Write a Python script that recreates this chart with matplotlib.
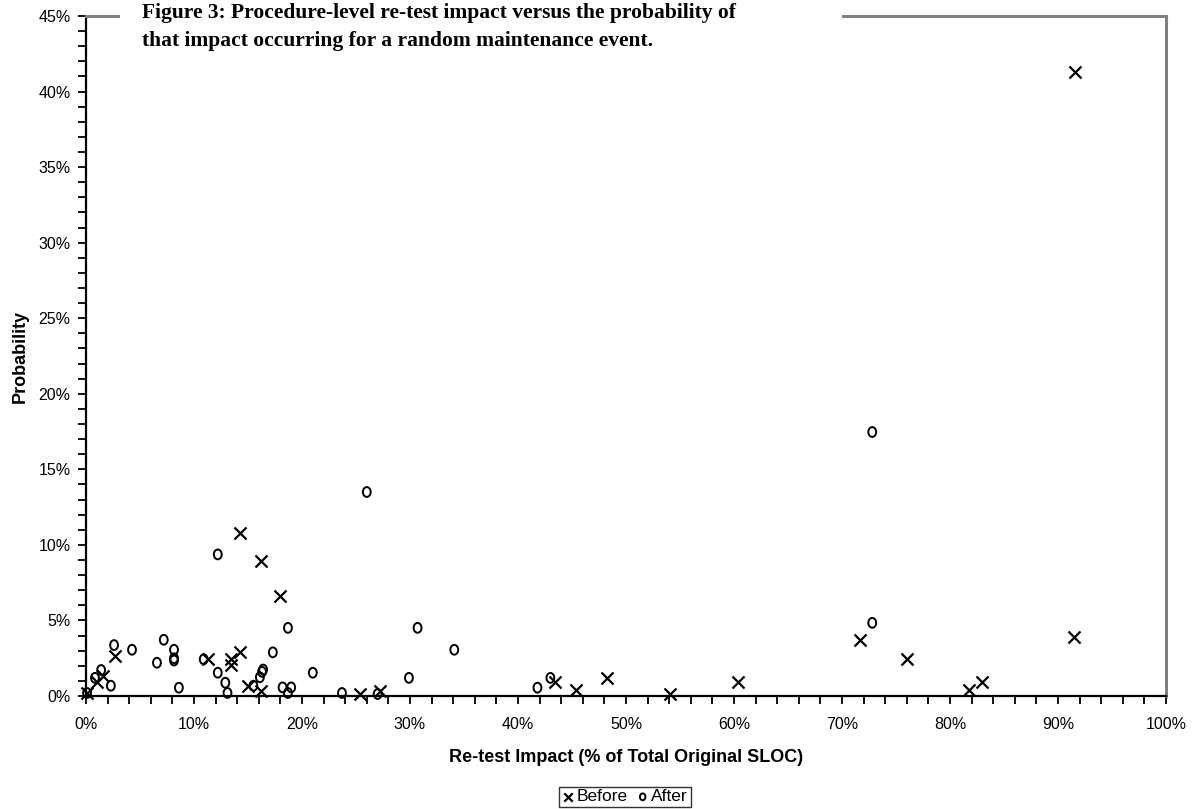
import matplotlib.pyplot as plt
from matplotlib.markers import MarkerStyle
from matplotlib.patches import Rectangle
from matplotlib.transforms import Affine2D
from matplotlib.ticker import MultipleLocator, PercentFormatter

# values, in percent
before_x = [0.1, 1.0, 1.6, 2.7, 11.3, 13.4, 13.4, 14.3, 14.3, 15.0, 16.2, 16.2, 18.0,
            25.4, 27.2, 43.4, 45.4, 48.2, 54.1, 60.4, 71.7, 76.0, 81.8, 83.0, 91.5, 91.6]
before_y = [0.2, 0.95, 1.3, 2.65, 2.45, 2.45, 2.05, 10.8, 2.93, 0.68, 8.92, 0.35, 6.59,
            0.1, 0.35, 0.95, 0.4, 1.2, 0.1, 0.95, 3.7, 2.43, 0.4, 0.95, 3.92, 41.3]

after_x = [0.1, 0.83, 1.4, 2.3, 2.6, 4.26, 6.57, 7.2, 8.15, 8.15, 8.15, 8.6, 10.9,
           12.2, 12.2, 12.9, 13.1, 15.5, 16.1, 16.3, 16.4, 17.3, 18.2, 18.7, 18.7,
           19.0, 21.0, 23.7, 26.0, 27.0, 29.9, 30.7, 34.1, 41.8, 43.0, 72.8, 72.8]
after_y = [0.2, 1.2, 1.72, 0.68, 3.37, 3.06, 2.2, 3.72, 3.06, 2.5, 2.35, 0.55, 2.43,
           9.37, 1.54, 0.88, 0.2, 0.68, 1.24, 1.6, 1.75, 2.89, 0.57, 4.51, 0.2,
           0.57, 1.54, 0.2, 13.5, 0.13, 1.2, 4.51, 3.06, 0.55, 1.2, 17.47, 4.84]

title_lines = ["Figure 3: Procedure-level re-test impact versus the probability of",
               "that impact occurring for a random maintenance event."]

plt.rcParams['font.family'] = ['Liberation Sans', 'DejaVu Sans']

fig = plt.figure(figsize=(11.98, 8.09), dpi=100)
W, H = 1198, 809
ax = fig.add_axes([86 / W, 1 - 696 / H, (1166 - 86) / W, (696 - 16) / H])

oval = MarkerStyle('o', transform=Affine2D().scale(0.8, 1.0))
ax.scatter(before_x, before_y, marker='x', s=75, c='black', linewidths=1.6,
           label='Before', clip_on=False, zorder=3)
ax.scatter(after_x, after_y, marker=oval, s=50, facecolors='none', edgecolors='black',
           linewidths=1.4, label='After', clip_on=False, zorder=3)

ax.set_xlim(0, 100)
ax.set_ylim(0, 45)
ax.xaxis.set_major_locator(MultipleLocator(10))
ax.xaxis.set_minor_locator(MultipleLocator(2))
ax.yaxis.set_major_locator(MultipleLocator(5))
ax.yaxis.set_minor_locator(MultipleLocator(1))
ax.xaxis.set_major_formatter(PercentFormatter(decimals=0))
ax.yaxis.set_major_formatter(PercentFormatter(decimals=0))
ax.tick_params(which='both', direction='out', length=6, width=1.3, labelsize=11.5)
ax.tick_params(axis='x', pad=9)
ax.tick_params(axis='y', pad=5)

for side in ['left', 'bottom']:
    ax.spines[side].set_linewidth(1.6)
    ax.spines[side].set_color('black')
for side in ['top', 'right']:
    ax.spines[side].set_linewidth(2.2)
    ax.spines[side].set_color('#808080')

ax.set_xlabel('Re-test Impact (% of Total Original SLOC)', fontsize=13,
              fontweight='bold', labelpad=12)
ax.set_ylabel('Probability', fontsize=13, fontweight='bold', labelpad=7)

# white box hiding the top border behind the caption
fig.patches.append(Rectangle((120 / W, 1 - 70 / H), (842 - 120) / W, 70 / H,
                             transform=fig.transFigure, facecolor='white',
                             edgecolor='none', zorder=5))
for i, line in enumerate(title_lines):
    fig.text(142 / W, 1 - (18 + 28 * i) / H, line, family='Liberation Serif',
             fontweight='bold', fontsize=15.5, va='baseline', ha='left', zorder=6)

fig.legend(loc='lower center', bbox_to_anchor=(625 / W, 2 / H), ncol=2,
           frameon=True, fancybox=False, edgecolor='black', fontsize=12.5,
           handletextpad=0.15, columnspacing=0.5, borderpad=0.15,
           handlelength=0.7, markerscale=0.7, borderaxespad=0)

fig.savefig('out.png', dpi=100)
